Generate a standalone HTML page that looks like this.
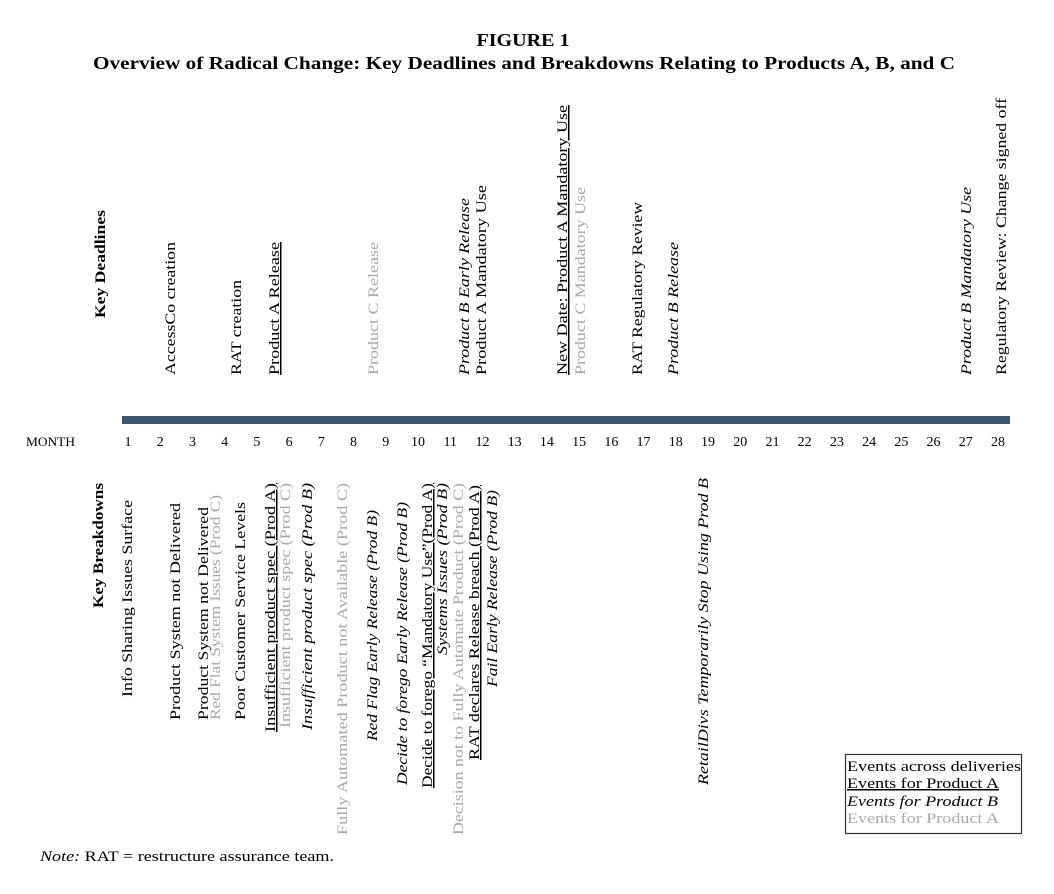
<!DOCTYPE html>
<html><head><meta charset="utf-8"><style>
html,body{margin:0;padding:0;background:#fff;}
svg{display:block;}
svg text{font-family:"Liberation Serif","DejaVu Serif",serif;}
.g{fill:#aaa}
</style></head><body>
<svg id="chart" width="1054" height="894" viewBox="0 0 1054 894" xmlns="http://www.w3.org/2000/svg" font-family="Liberation Serif, DejaVu Serif, serif">
<text x="523" y="46" text-anchor="middle" font-weight="bold" font-size="18" textLength="93" lengthAdjust="spacingAndGlyphs">FIGURE 1</text>
<text x="93" y="69" font-weight="bold" font-size="18" textLength="862" lengthAdjust="spacingAndGlyphs">Overview of Radical Change: Key Deadlines and Breakdowns Relating to Products A, B, and C</text>

<g id="labels" font-size="15"></g>

<rect x="122" y="416" width="888" height="8" fill="#3d5570"/>
<text x="26" y="446" font-size="12.5" textLength="49" lengthAdjust="spacingAndGlyphs">MONTH</text>
<g id="months" font-size="14" text-anchor="middle"></g>

<rect x="845.5" y="754.5" width="176" height="79" fill="none" stroke="#333" stroke-width="1.2"/>
<text x="847" y="771" font-size="15" textLength="174" lengthAdjust="spacingAndGlyphs">Events across deliveries</text>
<text x="847" y="788" font-size="15" text-decoration="underline" textLength="152" lengthAdjust="spacingAndGlyphs">Events for Product A</text>
<text x="847" y="806" font-size="15" font-style="italic" textLength="151" lengthAdjust="spacingAndGlyphs">Events for Product B</text>
<text x="847" y="823" font-size="15" class="g" textLength="152" lengthAdjust="spacingAndGlyphs">Events for Product A</text>

<text x="40" y="861" font-size="14.5" textLength="294" lengthAdjust="spacingAndGlyphs"><tspan font-style="italic">Note:</tspan> RAT = restructure assurance team.</text>
</svg>
<script>
const months = [1,2,3,4,5,6,7,8,9,10,11,12,13,14,15,16,17,18,19,20,21,22,23,24,25,26,27,28];
const monthLabels = ["1","2","3","4","5","6","7","8","9","10","11","12","13","14","15","16","17","18","19","20","21","22","23","24","25","26","27","28"];
function xScale(m){ return 128 + (m-1)*(998-128)/27; }
const NS="http://www.w3.org/2000/svg";
const mg=document.getElementById('months');
months.forEach((m,i)=>{
  const t=document.createElementNS(NS,'text');
  
  
  t.setAttribute('x',xScale(m));
  t.setAttribute('y',446);
  t.textContent=monthLabels[i];
  mg.appendChild(t);
});
const L=[
["Key Deadlines",100,210,318,"b"],
["AccessCo creation",170,242,375,"n"],
["RAT creation",236,280,375,"n"],
["Product A Release",274,242,375,"u"],
["Product C Release",373,242,375,"g"],
["Product B Early Release",464,198,375,"i"],
["Product A Mandatory Use",481,185,375,"n"],
["New Date: Product A Mandatory Use",562,105,375,"u"],
["Product C Mandatory Use",580,187,375,"g"],
["RAT Regulatory Review",637,202,375,"n"],
["Product B Release",673,242,375,"i"],
["Product B Mandatory Use",966,187,375,"i"],
["Regulatory Review: Change signed off",1001,98,375,"n"],
["Key Breakdowns",98,483,608,"b"],
["Info Sharing Issues Surface",127,500,697,"n"],
["Product System not Delivered",175,503,720,"n"],
["Product System not Delivered",203,507,720,"n"],
["Red Flat System Issues (Prod C)",215,495,720,"g"],
["Poor Customer Service Levels",240,502,720,"n"],
["Insufficient product spec (Prod A)",270,483,732,"u"],
["Insufficient product spec (Prod C)",285,483,728,"g"],
["Insufficient product spec (Prod B)",307,483,730,"i"],
["Fully Automated Product not Available (Prod C)",342,483,835,"g"],
["Red Flag Early Release (Prod B)",372,510,741,"i"],
["Decide to forego Early Release (Prod B)",402,502,785,"i"],
["Decide to forego \u201cMandatory Use\u201d(Prod A)",427,483,788,"u"],
["Systems Issues (Prod B)",442,483,655,"i"],
["Decision not to Fully Automate Product (Prod C)",458,483,835,"g"],
["RAT declares Release breach (Prod A)",474,485,760,"u"],
["Fail Early Release (Prod B)",492,490,687,"i"],
["RetailDivs Temporarily Stop Using Prod B",703,478,785,"i"]
];
const lg=document.getElementById('labels');
L.forEach(s=>{
  const t=document.createElementNS(NS,'text');
  
  
  const bx=s[1]+5;
  t.setAttribute('transform','translate('+bx+','+s[3]+') rotate(-90)');
  t.setAttribute('textLength',s[3]-s[2]);
  t.setAttribute('lengthAdjust','spacingAndGlyphs');
  if(s[4]==='b'){t.setAttribute('font-weight','bold');}
  if(s[4]==='u'){t.setAttribute('text-decoration','underline');}
  if(s[4]==='i'){t.setAttribute('font-style','italic');}
  if(s[4]==='g'){t.setAttribute('class','g');}
  t.textContent=s[0];
  lg.appendChild(t);
});
</script>
</body></html>
